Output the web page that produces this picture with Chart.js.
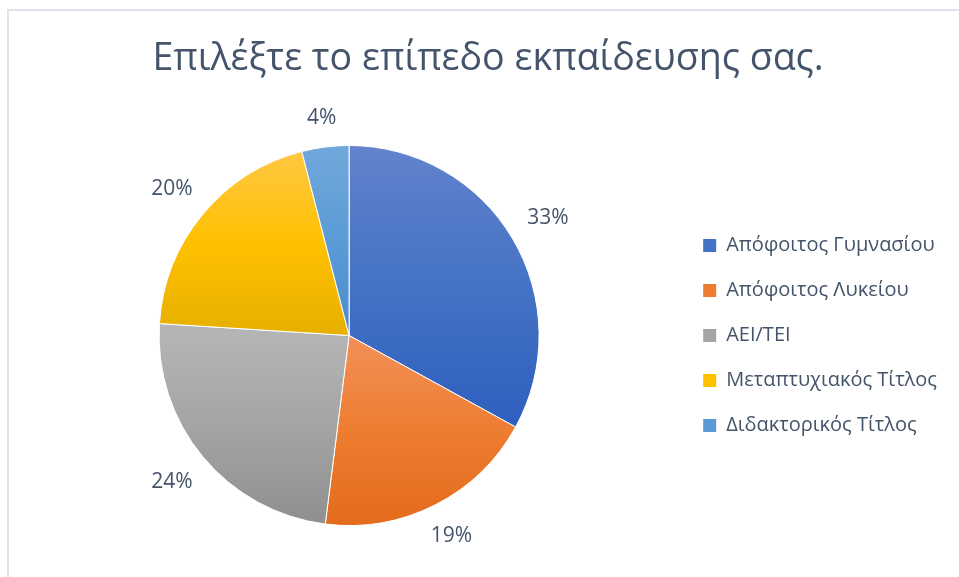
<!DOCTYPE html>
<html>
<head>
<meta charset="utf-8">
<script src="https://cdn.jsdelivr.net/npm/chart.js@4"></script>
<style>
  body { margin: 0; background: #fff; }
  #wrap { width: 959px; height: 577px; }
</style>
</head>
<body>
<div id="wrap"><canvas id="chart" width="959" height="577"></canvas></div>
<script>
const titleText = "Επιλέξτε το επίπεδο εκπαίδευσης σας.";
const labels = ["Απόφοιτος Γυμνασίου", "Απόφοιτος Λυκείου", "ΑΕΙ/ΤΕΙ", "Μεταπτυχιακός Τίτλος", "Διδακτορικός Τίτλος"];
const values = [33, 19, 24, 20, 4];

const baseColors = ["#4472c4", "#ed7d31", "#a5a5a5", "#ffc000", "#5b9bd5"];
const lightColors = ["#6283cc", "#f39058", "#b6b6b6", "#ffc843", "#72a8dc"];
const darkColors = ["#2e5fbf", "#e36b1c", "#8f8f8f", "#e6b000", "#4a8dcf"];

const textColor = "#44546a";
const fontFamily = "'Open Sans', 'Noto Sans', sans-serif";
const pieRadius = 190;

// excel-like gradient over each slice's own vertical extent
function sliceGradient(context) {
    const i = context.dataIndex;
    const area = context.chart.chartArea;
    if (!area || i === undefined) return baseColors[i || 0];

    const total = values.reduce((a, b) => a + b, 0);
    let before = 0;
    for (let k = 0; k < i; k++) before += values[k];
    const a0 = -Math.PI / 2 + 2 * Math.PI * before / total;
    const a1 = a0 + 2 * Math.PI * values[i] / total;
    const cy = (area.top + area.bottom) / 2;

    const ys = [cy, cy + pieRadius * Math.sin(a0), cy + pieRadius * Math.sin(a1)];
    [Math.PI / 2, 3 * Math.PI / 2].forEach(e => {
        if (e > a0 && e < a1) ys.push(cy + pieRadius * Math.sin(e));
    });
    const top = Math.min(...ys);
    const bottom = Math.max(...ys);

    const g = context.chart.ctx.createLinearGradient(0, top, 0, bottom);
    g.addColorStop(0, lightColors[i]);
    g.addColorStop(0.5, baseColors[i]);
    g.addColorStop(1, darkColors[i]);
    return g;
}

// frame + title
const framePlugin = {
    id: "frame",
    beforeDraw(chart) {
        const ctx = chart.ctx;
        ctx.save();
        ctx.fillStyle = "#ffffff";
        ctx.fillRect(0, 0, chart.width, chart.height);
        ctx.strokeStyle = "#dde2ea";
        ctx.lineWidth = 2;
        ctx.beginPath();
        ctx.moveTo(8, chart.height);
        ctx.lineTo(8, 10);
        ctx.lineTo(chart.width, 10);
        ctx.stroke();

        ctx.fillStyle = textColor;
        ctx.font = "37.6px " + fontFamily;
        ctx.textAlign = "center";
        ctx.textBaseline = "alphabetic";
        ctx.fillText(titleText, 488, 70);
        ctx.restore();
    }
};

// percentage labels outside the slices
const outsideLabels = {
    id: "outsideLabels",
    afterDatasetsDraw(chart) {
        const ctx = chart.ctx;
        const meta = chart.getDatasetMeta(0);
        const total = values.reduce((a, b) => a + b, 0);
        ctx.save();
        ctx.font = "21px " + fontFamily;
        ctx.fillStyle = textColor;
        ctx.textAlign = "center";
        ctx.textBaseline = "middle";
        meta.data.forEach((arc, i) => {
            const p = arc.getProps(["x", "y", "startAngle", "endAngle", "outerRadius"], true);
            const mid = (p.startAngle + p.endAngle) / 2;
            const txt = Math.round(values[i] / total * 100) + "%";
            const w = ctx.measureText(txt).width;
            const c = Math.cos(mid), s = Math.sin(mid);
            const d = p.outerRadius + 19 + Math.abs(c) * w / 2 + Math.abs(s) * 8;
            ctx.fillText(txt, p.x + c * d, p.y + s * d);
        });
        ctx.restore();
    }
};

new Chart(document.getElementById("chart"), {
    type: "pie",
    data: {
        labels: labels,
        datasets: [{
            data: values,
            backgroundColor: sliceGradient,
            borderColor: "#ffffff",
            borderWidth: 1,
            radius: pieRadius
        }]
    },
    options: {
        responsive: false,
        devicePixelRatio: 1,
        animation: false,
        layout: { padding: { top: 146, bottom: 52, left: 20, right: 12 } },
        plugins: {
            title: { display: false },
            tooltip: { enabled: false },
            legend: {
                position: "right",
                labels: {
                    boxWidth: 13,
                    boxHeight: 13,
                    padding: 25,
                    color: textColor,
                    font: { family: fontFamily, size: 20 },
                    generateLabels: () => labels.map((t, i) => ({
                        text: t,
                        fillStyle: baseColors[i],
                        strokeStyle: baseColors[i],
                        lineWidth: 0,
                        hidden: false,
                        index: i,
                        fontColor: textColor
                    }))
                }
            }
        }
    },
    plugins: [framePlugin, outsideLabels]
});
</script>
</body>
</html>
